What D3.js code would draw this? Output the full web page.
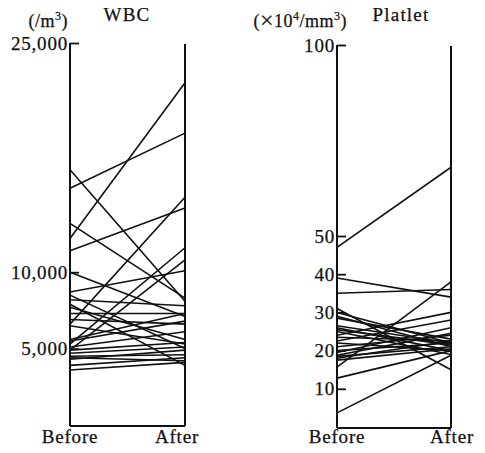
<!DOCTYPE html>
<html>
<head>
<meta charset="utf-8">
<script src="https://cdn.jsdelivr.net/npm/d3@7"></script>
<style>
  html, body { margin: 0; padding: 0; background: #fff; }
  svg { display: block; }
  text { font-family: "Liberation Serif", "DejaVu Serif", serif; fill: #111; stroke: #111; stroke-width: 0.25; }
</style>
</head>
<body>
<svg id="chart" width="485" height="453"></svg>
<script>
// ---- Data ----
const timepoints = ["Before", "After"];

const wbcTicks = [5000, 10000, 25000];
const wbcTickLabels = ["5,000", "10,000", "25,000"];
const wbcBefore = [12200, 15500, 16700, 13200, 11400, 6600, 5300, 4900, 8700, 10000,
                   8500, 8200, 7900, 7300, 7700, 6900, 6500, 5600, 5500, 5100,
                   4900, 4700, 4500, 4400, 4300, 3900, 3600];
const wbcAfter  = [22400, 19100, 8100, 8300, 14200, 14900, 11600, 10800, 10100, 7100,
                   5000, 7800, 3900, 7300, 5600, 6600, 5300, 7300, 6800, 6100,
                   5400, 5100, 4600, 4200, 4900, 4400, 4100];

const pltTicks = [10, 20, 30, 40, 50, 100];
const pltTickLabels = ["10", "20", "30", "40", "50", "100"];
const pltBefore = [47, 39, 35, 15.7, 31, 30, 29, 28.5, 26.5, 26, 25.5, 25, 24,
                   23.5, 22.5, 22, 21, 20, 19.5, 18.5, 18, 17.5, 12.8, 3.7, 18.8];
const pltAfter  = [68, 34, 36, 38, 15, 22, 21, 23, 22, 20, 21.5, 19, 30,
                   22.5, 28, 20, 24, 22, 26, 21, 22.5, 20.5, 20, 18.8, 24.5];

// ---- Drawing ----
const svg = d3.select("#chart");

function panel(opt) {
  const x = d3.scalePoint().domain(timepoints).range([opt.x0, opt.x1]);
  const y = d3.scaleLinear().domain([0, opt.max]).range([opt.bottom, opt.top]);
  const g = svg.append("g");

  // data lines
  const rows = opt.before.map((b, i) => [b, opt.after[i]]);
  const line = d3.line().x((d, i) => x(timepoints[i])).y(d => y(d));
  g.selectAll("path.series").data(rows).join("path")
    .attr("class", "series")
    .attr("d", d => line(d))
    .attr("fill", "none")
    .attr("stroke", "#111")
    .attr("stroke-width", 1.6);

  // left axis with inward ticks
  const axis = d3.axisLeft(y).tickValues(opt.ticks).tickSize(-9)
    .tickFormat((d, i) => opt.tickLabels[i]).tickPadding(12);
  const ag = g.append("g").attr("transform", `translate(${opt.x0},0)`).call(axis);
  ag.select(".domain").remove();
  ag.selectAll(".tick line").attr("stroke", "#111").attr("stroke-width", 1.8);
  ag.selectAll(".tick text")
    .attr("font-family", "Liberation Serif, DejaVu Serif, serif")
    .attr("font-size", 19).attr("fill", "#111").attr("x", -2)
    .attr("letter-spacing", 0.8);

  // frame: two vertical axes + bottom
  g.append("line").attr("x1", opt.x0).attr("x2", opt.x0)
    .attr("y1", y(opt.max)).attr("y2", opt.bottom + 1)
    .attr("stroke", "#111").attr("stroke-width", 2);
  g.append("line").attr("x1", opt.x1).attr("x2", opt.x1)
    .attr("y1", y(opt.max) + 1).attr("y2", opt.bottom + 1)
    .attr("stroke", "#111").attr("stroke-width", 2);
  g.append("line").attr("x1", opt.x0).attr("x2", opt.x1)
    .attr("y1", opt.bottom + 1).attr("y2", opt.bottom + 1)
    .attr("stroke", "#111").attr("stroke-width", 1.8);

  // category labels
  g.append("text").attr("x", x("Before")).attr("y", 443)
    .attr("text-anchor", "middle").attr("font-size", 19).attr("letter-spacing", 0.8)
    .text("Before");
  g.append("text").attr("x", x("After") + opt.afterShift).attr("y", 443)
    .attr("text-anchor", "middle").attr("font-size", 19).attr("letter-spacing", 0.8)
    .text("After");

  // titles / units
  g.append("text").attr("x", opt.titleX).attr("y", 21)
    .attr("text-anchor", "middle").attr("font-size", 19).attr("letter-spacing", 1.2)
    .text(opt.title);
  const u = g.append("text").attr("x", opt.unitX).attr("y", 27)
    .attr("text-anchor", "end").attr("font-size", 18).attr("letter-spacing", 0.5);
  opt.unit(u);
}

panel({
  x0: 70, x1: 185, top: 43, bottom: 425, max: 25000,
  ticks: wbcTicks, tickLabels: wbcTickLabels,
  before: wbcBefore, after: wbcAfter,
  title: "WBC", titleX: 127, unitX: 68, afterShift: -8,
  unit: t => {
    t.append("tspan").text("(/m");
    t.append("tspan").attr("font-size", 12).attr("dy", -7).text("3");
    t.append("tspan").attr("dy", 7).text(")");
  }
});

panel({
  x0: 337, x1: 451, top: 45, bottom: 427, max: 100,
  ticks: pltTicks, tickLabels: pltTickLabels,
  before: pltBefore, after: pltAfter,
  title: "Platlet", titleX: 401, unitX: 347, afterShift: 1,
  unit: t => {
    t.append("tspan").text("(");
    t.append("tspan").attr("font-size", 24).attr("dy", 1).text("\u00D7");
    t.append("tspan").attr("dy", -1).text("10");
    t.append("tspan").attr("font-size", 12).attr("dy", -7).text("4");
    t.append("tspan").attr("dy", 7).text("/mm");
    t.append("tspan").attr("font-size", 12).attr("dy", -7).text("3");
    t.append("tspan").attr("dy", 7).text(")");
  }
});
</script>
</body>
</html>
